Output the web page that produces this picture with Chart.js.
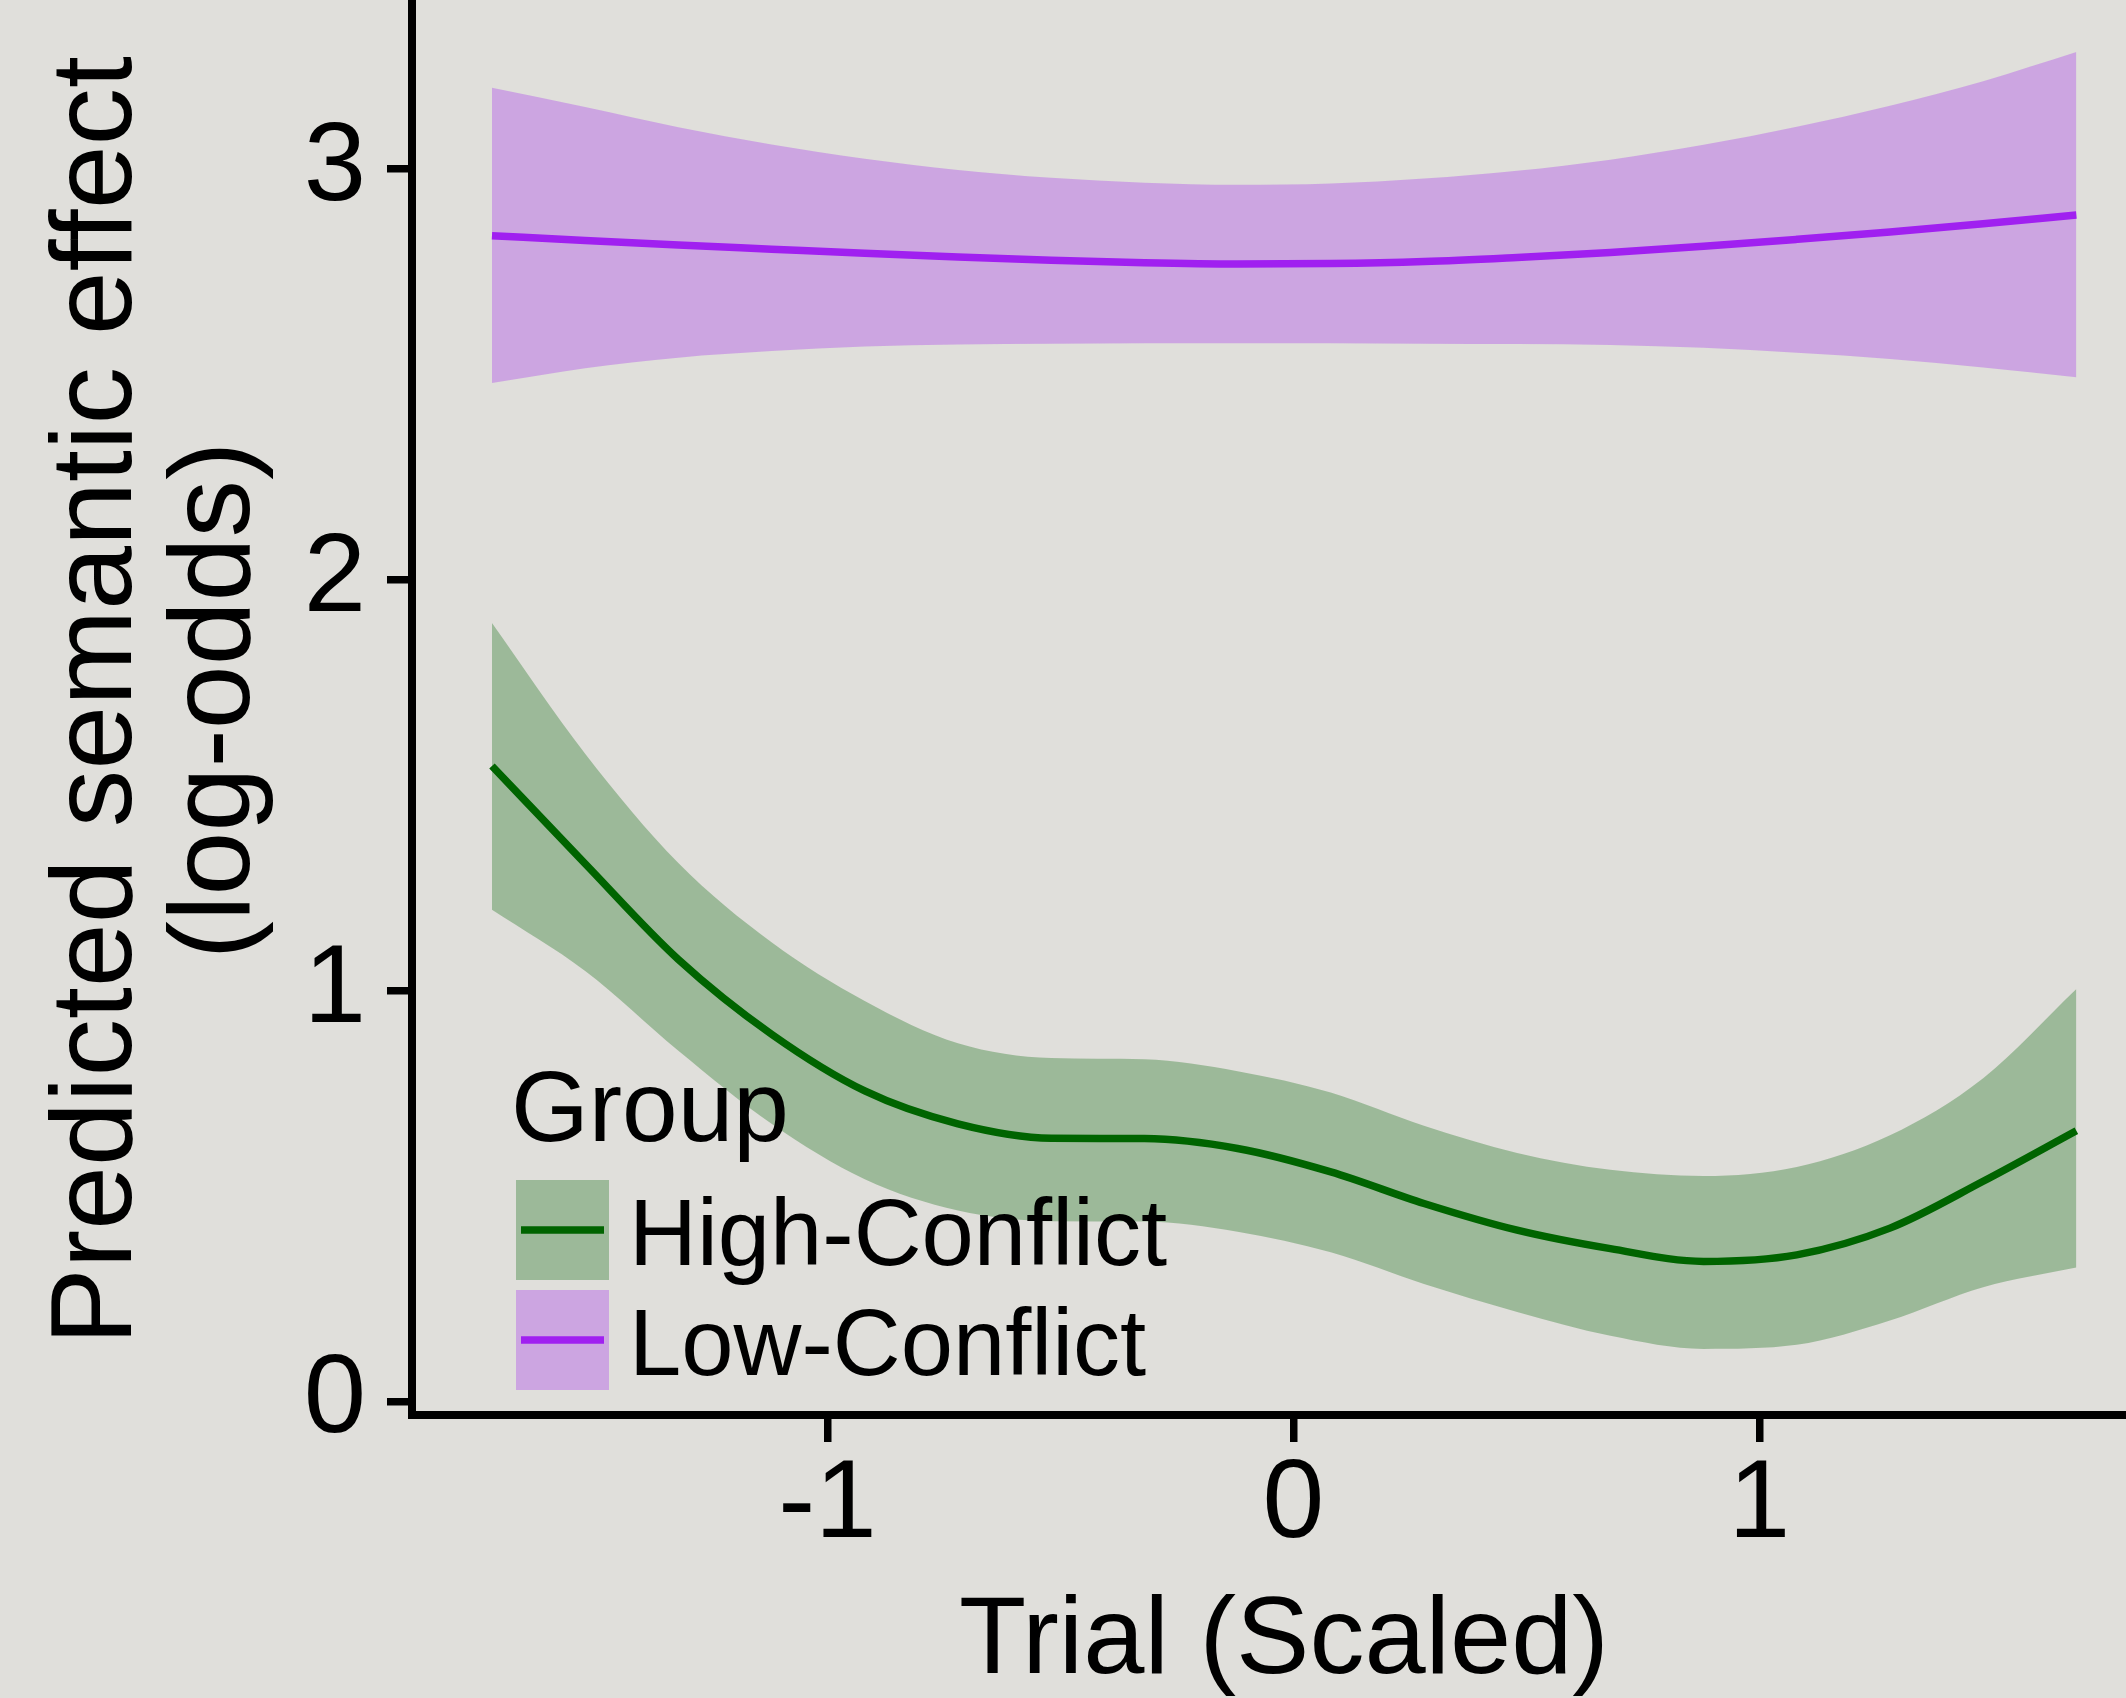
<!DOCTYPE html>
<html>
<head>
<meta charset="utf-8">
<script src="https://cdn.jsdelivr.net/npm/chart.js@4/dist/chart.umd.min.js"></script>
<style>
  html, body { margin: 0; padding: 0; background: #E0DFDB; overflow: hidden; width: 2126px; height: 1698px; }
  /* the ggplot panel runs a little past the top and right edges of the picture */
  canvas { display: block; position: absolute; left: 0; top: -14px; }
</style>
</head>
<body>
<canvas id="chart" width="2156" height="1712"></canvas>
<script>
// --- data ---
const trial = [-1.72, -1.52, -1.32, -1.12, -0.92, -0.72, -0.52, -0.32, -0.12,
               0.08, 0.28, 0.48, 0.68, 0.88, 1.08, 1.28, 1.48, 1.68];

const highFit   = [1.547, 1.309, 1.076, 0.894, 0.756, 0.676, 0.641, 0.640, 0.616,
                   0.559, 0.482, 0.417, 0.372, 0.341, 0.357, 0.422, 0.536, 0.659];
const highUpper = [1.895, 1.577, 1.311, 1.118, 0.975, 0.872, 0.836, 0.833, 0.804,
                   0.752, 0.671, 0.605, 0.564, 0.549, 0.571, 0.648, 0.787, 1.004];
const highLower = [1.197, 1.048, 0.854, 0.676, 0.541, 0.465, 0.439, 0.438, 0.413,
                   0.363, 0.286, 0.218, 0.160, 0.128, 0.138, 0.197, 0.278, 0.326];

const lowFit   = [2.838, 2.826, 2.815, 2.805, 2.795, 2.786, 2.778, 2.772, 2.769,
                  2.770, 2.775, 2.785, 2.797, 2.812, 2.829, 2.847, 2.867, 2.888];
const lowUpper = [3.198, 3.151, 3.102, 3.060, 3.025, 2.998, 2.979, 2.967, 2.962,
                  2.965, 2.977, 2.996, 3.023, 3.059, 3.103, 3.154, 3.214, 3.285];
const lowLower = [2.479, 2.515, 2.541, 2.557, 2.568, 2.573, 2.575, 2.576, 2.576,
                  2.576, 2.575, 2.574, 2.572, 2.565, 2.553, 2.538, 2.517, 2.493];

const groups = ['High-Conflict', 'Low-Conflict'];
const legendTitle = 'Group';
const xTicks = [-1, 0, 1];
const yTicks = [0, 1, 2, 3];

// --- styling ---
const FONT = '"Liberation Sans", Arial, Helvetica, sans-serif';
const BG = '#E0DFDB';
const lineColors = ['#006400', '#A020F0'];
const bandColors = ['rgba(0,100,0,0.3)', 'rgba(160,32,240,0.3)'];
const OFFSET_Y = 14; // canvas sits 14px above the page top

Chart.defaults.font.family = FONT;
Chart.defaults.color = '#000';

const pts = ys => trial.map((x, i) => ({ x: x, y: ys[i] }));

const band = (ys, color, fill) => ({
    data: pts(ys),
    fill: fill,
    backgroundColor: color,
    borderColor: 'transparent',
    borderWidth: 0,
    pointRadius: 0,
    cubicInterpolationMode: 'monotone',
    order: 1
});

const line = (ys, color, label) => ({
    label: label,
    data: pts(ys),
    fill: false,
    borderColor: color,
    borderWidth: 7.5,
    pointRadius: 0,
    cubicInterpolationMode: 'monotone',
    order: 0
});

const background = {
    id: 'background',
    beforeDraw(chart) {
        const ctx = chart.ctx;
        ctx.save();
        ctx.fillStyle = BG;
        ctx.fillRect(0, 0, chart.width, chart.height);
        ctx.restore();
    }
};

// ggplot-style legend sitting inside the panel
const groupLegend = {
    id: 'groupLegend',
    afterDatasetsDraw(chart) {
        const ctx = chart.ctx;
        ctx.save();
        ctx.translate(0, OFFSET_Y);
        ctx.fillStyle = '#000';
        ctx.textBaseline = 'alphabetic';
        ctx.font = '100px ' + FONT;
        ctx.fillText(legendTitle, 511, 1141);
        groups.forEach((g, i) => {
            const top = 1180 + i * 110;
            ctx.fillStyle = bandColors[i];
            ctx.fillRect(516, top, 93, 100);
            ctx.strokeStyle = lineColors[i];
            ctx.lineWidth = 7.5;
            ctx.beginPath();
            ctx.moveTo(521, top + 50);
            ctx.lineTo(604, top + 50);
            ctx.stroke();
            ctx.fillStyle = '#000';
            ctx.font = '94px ' + FONT;
            ctx.fillText(g, 629, top + 50 + 35);
        });
        ctx.restore();
    }
};

new Chart(document.getElementById('chart'), {
    type: 'line',
    data: {
        datasets: [
            band(highUpper, bandColors[0], '+1'),
            band(highLower, bandColors[0], false),
            band(lowUpper, bandColors[1], '+1'),
            band(lowLower, bandColors[1], false),
            line(highFit, lineColors[0], groups[0]),
            line(lowFit, lineColors[1], groups[1])
        ]
    },
    options: {
        responsive: false,
        devicePixelRatio: 1,
        animation: false,
        layout: { padding: 0, autoPadding: false },
        plugins: { legend: { display: false }, tooltip: { enabled: false } },
        scales: {
            x: {
                type: 'linear',
                min: -1.8916,
                max: 1.8509,
                afterBuildTicks: s => { s.ticks = xTicks.map(v => ({ value: v })); },
                afterFit: s => { s.height = 283; s.paddingLeft = 0; s.paddingRight = 0; },
                border: { display: true, color: '#000', width: 8 },
                grid: {
                    display: true, drawOnChartArea: false, drawTicks: true,
                    tickLength: 27, tickWidth: 7.5, tickColor: '#000',
                    color: '#000', lineWidth: 7.5
                },
                ticks: {
                    color: '#000', padding: 9, maxRotation: 0, autoSkip: false,
                    font: { size: 111, lineHeight: 1 },
                    callback: v => String(v)
                },
                title: {
                    display: true, text: 'Trial (Scaled)', color: '#000',
                    font: { size: 110, lineHeight: 1 },
                    padding: { top: 0, bottom: 0 }
                }
            },
            y: {
                type: 'linear',
                min: -0.0329,
                max: 3.4457,
                afterBuildTicks: s => { s.ticks = yTicks.map(v => ({ value: v })); },
                afterFit: s => { s.width = 412; s.paddingTop = 0; s.paddingBottom = 0; },
                border: { display: true, color: '#000', width: 8 },
                grid: {
                    display: true, drawOnChartArea: false, drawTicks: true,
                    tickLength: 25, tickWidth: 7.5, tickColor: '#000',
                    color: '#000', lineWidth: 7.5
                },
                ticks: {
                    color: '#000', padding: 21, autoSkip: false,
                    font: { size: 112, lineHeight: 1 },
                    callback: v => String(v)
                },
                title: {
                    display: true,
                    text: ['Predicted semantic effect', '(log-odds)'],
                    color: '#000',
                    font: { size: 115, lineHeight: 1.02 },
                    padding: { top: 41, bottom: 0 }
                }
            }
        }
    },
    plugins: [background, groupLegend]
});
</script>
</body>
</html>
